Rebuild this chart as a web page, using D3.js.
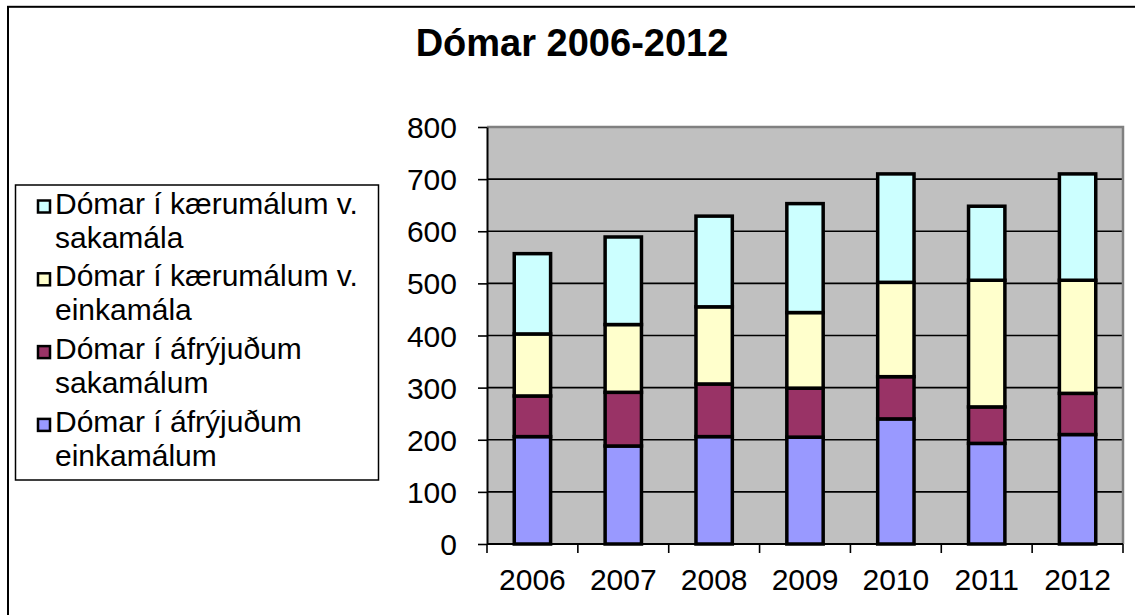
<!DOCTYPE html>
<html>
<head>
<meta charset="utf-8">
<script src="https://cdn.jsdelivr.net/npm/d3@7"></script>
<style>
  body { margin: 0; background: #fff; }
  text { font-family: "Liberation Sans", Arial, sans-serif; }
</style>
</head>
<body>
<div id="chart"></div>
<script>
// categories
const years = ["2006", "2007", "2008", "2009", "2010", "2011", "2012"];

// series values
const afryjudumEinkamalum = [206, 188, 206, 205, 240, 193, 210];
const afryjudumSakamalum = [78, 103, 101, 94, 81, 70, 79];
const kaerumalumEinkamala = [119, 130, 148, 145, 181, 243, 217];
const kaerumalumSakamala = [154, 168, 174, 209, 208, 142, 204];

// y tick labels
const yTicks = [0, 100, 200, 300, 400, 500, 600, 700, 800];

// series names, bottom to top in the stack
const seriesKeys = ["ae", "as", "ke", "ks"];
const seriesNames = {
  ks: ["Dómar í kærumálum v.", "sakamála"],
  ke: ["Dómar í kærumálum v.", "einkamála"],
  as: ["Dómar í áfrýjuðum", "sakamálum"],
  ae: ["Dómar í áfrýjuðum", "einkamálum"]
};
const colours = { ae: "#9999FF", as: "#993366", ke: "#FFFFCC", ks: "#CCFFFF" };

const width = 1135;
const height = 615;
const marginTop = 127;
const marginRight = 12;
const marginBottom = 71;
const marginLeft = 487;

// build table for d3.stack
const table = years.map((yr, i) => ({
  year: yr,
  ae: afryjudumEinkamalum[i],
  as: afryjudumSakamalum[i],
  ke: kaerumalumEinkamala[i],
  ks: kaerumalumSakamala[i]
}));
const stacked = d3.stack().keys(seriesKeys)(table);

const x = d3.scaleBand()
    .domain(years)
    .range([marginLeft, width - marginRight]);

const y = d3.scaleLinear()
    .domain([0, 800])
    .range([height - marginBottom, marginTop]);

const svg = d3.create("svg")
    .attr("width", width)
    .attr("height", height);

// chart area border (only top/left visible in the picture)
svg.append("rect")
    .attr("x", 8).attr("y", 6.8)
    .attr("width", width + 20).attr("height", height + 20)
    .attr("fill", "#fff")
    .attr("stroke", "#000")
    .attr("stroke-width", 2);

// title
svg.append("text")
    .attr("x", 572)
    .attr("y", 56)
    .attr("text-anchor", "middle")
    .style("font-size", "38px")
    .style("font-weight", "bold")
    .text("Dómar 2006-2012");

// plot background
svg.append("rect")
    .attr("x", marginLeft).attr("y", marginTop)
    .attr("width", width - marginRight - marginLeft)
    .attr("height", height - marginBottom - marginTop)
    .attr("fill", "#C0C0C0");

// gridlines
svg.append("g")
  .selectAll("line")
  .data(yTicks.filter(d => d > 0 && d < 800))
  .join("line")
    .attr("x1", marginLeft).attr("x2", width - marginRight)
    .attr("y1", d => y(d)).attr("y2", d => y(d))
    .attr("stroke", "#000")
    .attr("stroke-width", 1.6);

// top / right border of plot
svg.append("path")
    .attr("d", `M${marginLeft},${y(800)}H${width - marginRight}V${y(0)}`)
    .attr("fill", "none")
    .attr("stroke", "#808080")
    .attr("stroke-width", 2.5);

// bars
const barW = x.bandwidth() * 0.4;
svg.append("g")
  .selectAll("g")
  .data(stacked)
  .join("g")
    .attr("fill", d => colours[d.key])
  .selectAll("rect")
  .data(d => d)
  .join("rect")
    .attr("x", d => x(d.data.year) + (x.bandwidth() - barW) / 2)
    .attr("y", d => y(d[1]))
    .attr("width", barW)
    .attr("height", d => y(d[0]) - y(d[1]))
    .attr("stroke", "#000")
    .attr("stroke-width", 3.5);

// y axis
const yAxis = svg.append("g")
    .attr("transform", `translate(${marginLeft},0)`)
    .call(d3.axisLeft(y).tickValues(yTicks).tickSize(9).tickPadding(21).tickSizeOuter(0));
yAxis.select(".domain").attr("stroke", "#000").attr("stroke-width", 2);
yAxis.selectAll(".tick line").attr("stroke-width", 1.6);
yAxis.selectAll(".tick text")
    .style("font-size", "30px")
    .attr("fill", "#000")
    .attr("dy", "0.35em");

// x axis: ticks between categories
const xAxis = svg.append("g")
    .attr("transform", `translate(0,${y(0)})`);
xAxis.append("line")
    .attr("x1", marginLeft).attr("x2", width - marginRight)
    .attr("stroke", "#000").attr("stroke-width", 2);
xAxis.selectAll("line.tk")
  .data(years.concat(["end"]))
  .join("line")
    .attr("class", "tk")
    .attr("x1", (d, i) => i < years.length ? x(d) : x.range()[1])
    .attr("x2", (d, i) => i < years.length ? x(d) : x.range()[1])
    .attr("y1", 0).attr("y2", 9)
    .attr("stroke", "#000").attr("stroke-width", 1.6);
xAxis.selectAll("text")
  .data(years)
  .join("text")
    .attr("x", d => x(d) + x.bandwidth() / 2)
    .attr("y", 46)
    .attr("text-anchor", "middle")
    .style("font-size", "30px")
    .text(d => d);

// legend
const legend = svg.append("g");
legend.append("rect")
    .attr("x", 15.5).attr("y", 185)
    .attr("width", 363).attr("height", 295)
    .attr("fill", "#fff")
    .attr("stroke", "#000")
    .attr("stroke-width", 1.5);

const legendOrder = ["ks", "ke", "as", "ae"];
const item = legend.selectAll("g.item")
  .data(legendOrder)
  .join("g")
    .attr("class", "item")
    .attr("transform", (d, i) => `translate(0,${213.5 + i * 72.8})`);
item.append("rect")
    .attr("x", 38).attr("y", -13)
    .attr("width", 12).attr("height", 12)
    .attr("fill", d => colours[d])
    .attr("stroke", "#000")
    .attr("stroke-width", 2.5);
const txt = item.append("text")
    .attr("x", 55)
    .style("font-size", "30px");
txt.selectAll("tspan")
  .data(d => seriesNames[d])
  .join("tspan")
    .attr("x", 55)
    .attr("dy", (d, i) => i === 0 ? 0 : 34)
    .text(d => d);

document.getElementById("chart").append(svg.node());
</script>
</body>
</html>
